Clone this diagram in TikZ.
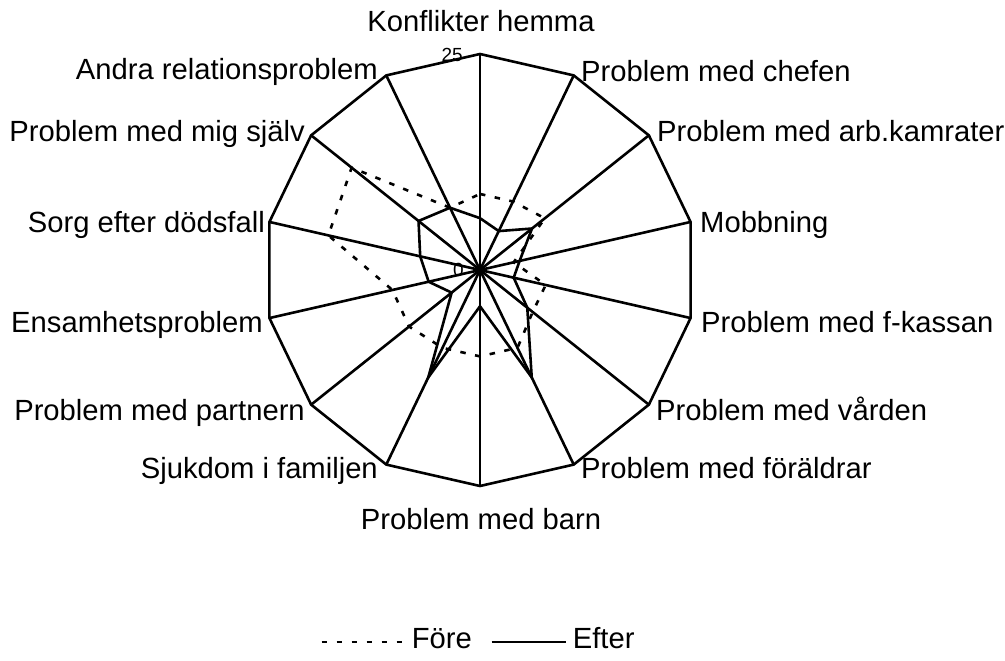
\documentclass[tikz,border=0pt]{standalone}
\usepackage{fontspec}
\setmainfont{Liberation Sans}
\begin{document}
\begin{tikzpicture}[x=1pt,y=-1pt,
  ln/.style={line width=2.6pt, line join=miter},
  fore/.style={line width=2.6pt, dash pattern=on 5.5pt off 9.5pt, line join=miter},
  efter/.style={line width=2.6pt, line join=miter},
  lab/.style={inner sep=0pt, font=\fontsize{29.2}{34}\selectfont},
  tick/.style={inner sep=0pt, anchor=east, font=\fontsize{19}{22}\selectfont}]
\useasboundingbox (0,0) rectangle (1005,661);
\coordinate (C) at (480,270);
\foreach \i in {0,...,13}
  \coordinate (V\i) at ({480+216*sin(\i*360/14)},{270-216*cos(\i*360/14)});
% spokes
\foreach \i in {0,...,13} \draw[ln] (C) -- (V\i);
% outer polygon
\draw[ln] (V0) \foreach \i in {1,...,13}{ -- (V\i)} -- cycle;
% data: Efter
\foreach \i/\v in {0/6,1/5,2/7.7,3/4.7,4/4,5/7,6/13.8,7/4.2,8/13.8,9/4.2,10/6.1,11/7.1,12/9.1,13/8}
  \coordinate (E\i) at ({480+216*\v/25*sin(\i*360/14)},{270-216*\v/25*cos(\i*360/14)});
% data: Fore
\foreach \i/\v in {0/8.8,1/8.8,2/9.6,3/4.0,4/7.8,5/7.8,6/10,7/10,8/10,9/10.5,10/10.4,11/18,12/19,13/8}
  \coordinate (F\i) at ({480+216*\v/25*sin(\i*360/14)},{270-216*\v/25*cos(\i*360/14)});
\draw[fore] (F0) \foreach \i in {1,...,13}{ -- (F\i)} -- cycle;
\draw[efter] (E0) \foreach \i in {1,...,13}{ -- (E\i)} -- cycle;
% tick labels
\node[tick] (T25) at (463,55) {25};
\node[tick] (T0) at (464,270) {0};
% category labels
\node[lab, anchor=base] (L0) at (481,32) {Konflikter hemma};
\node[lab, anchor=base west] (L1) at (581,82) {Problem med chefen};
\node[lab, anchor=base west] (L2) at (657,142) {Problem med arb.kamrater};
\node[lab, anchor=base west] (L3) at (700,232) {Mobbning};
\node[lab, anchor=base west] (L4) at (701,332) {Problem med f-kassan};
\node[lab, anchor=base west] (L5) at (656,420) {Problem med vården};
\node[lab, anchor=base west] (L6) at (581,478) {Problem med föräldrar};
\node[lab, anchor=base] (L7) at (481,529) {Problem med barn};
\node[lab, anchor=base east] (L8) at (378,478) {Sjukdom i familjen};
\node[lab, anchor=base east] (L9) at (305,420) {Problem med partnern};
\node[lab, anchor=base east] (L10) at (263,332) {Ensamhetsproblem};
\node[lab, anchor=base east] (L11) at (265,232) {Sorg efter dödsfall};
\node[lab, anchor=base east] (L12) at (305,142) {Problem med mig själv};
\node[lab, anchor=base east] (L13) at (378,80) {Andra relationsproblem};
% legend
\coordinate (LF1) at (321.7,642);
\coordinate (LF2) at (404,642);
\draw[fore] (LF1) -- (LF2);
\node[lab, anchor=base west] (LF) at (411.7,648.5) {Före};
\coordinate (LE1) at (491.7,642);
\coordinate (LE2) at (565.5,642);
\draw[efter] (LE1) -- (LE2);
\node[lab, anchor=base west] (LE) at (572.7,648.5) {Efter};
\end{tikzpicture}
\end{document}
